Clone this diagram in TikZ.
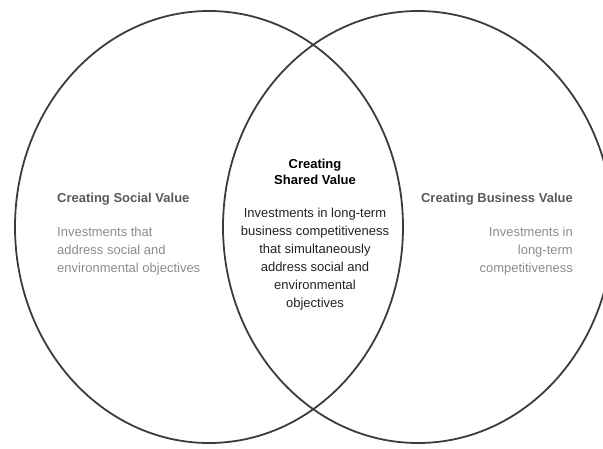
\documentclass[tikz,border=0pt]{standalone}
\usepackage{fontspec}
\setmainfont{Liberation Sans}
\usepackage{tikz}

\definecolor{rimgray}{HTML}{3C3C3C}
\definecolor{headgray}{HTML}{5A5A5A}
\definecolor{bodygray}{HTML}{8C8C8C}
\definecolor{midtext}{HTML}{222222}

\begin{document}
\begin{tikzpicture}[x=1pt, y=-1pt]
 \tikzstyle{every node}=[inner sep=0pt, font=\fontsize{13}{18}\selectfont]
 \tikzstyle{rim}=[draw=rimgray, line width=1.8pt]
 \tikzstyle{head}=[font=\fontsize{13}{16}\selectfont\bfseries]
 \useasboundingbox (0,0) rectangle (603,448);
 \clip (0,0) rectangle (603,448);

 % the two circles (the right one runs off the page edge)
 \draw[rim] (209,227) ellipse [x radius=194, y radius=216];
 \draw[rim] (418,227) ellipse [x radius=195, y radius=216];

 % left side (base of a multi-line node = its last line)
 \node[head, text=headgray, anchor=base west] (socialhead) at (57,202) {Creating Social Value};
 \node[text=bodygray, align=left, anchor=base west] (socialtext) at (57,272)
  {Investments that\\address social and\\environmental objectives};

 % overlap
 \node[head, text=black, align=center, anchor=base] (sharedhead) at (315,184) {Creating\\Shared Value};
 \node[text=midtext, align=center, anchor=base] (sharedtext) at (315,307)
  {Investments in long-term\\business competitiveness\\that simultaneously\\address social and\\environmental\\objectives};

 % right side
 \node[head, text=headgray, anchor=base east] (businesshead) at (573,202) {Creating Business Value};
 \node[text=bodygray, align=right, anchor=base east] (businesstext) at (573,272)
  {Investments in\\long-term\\competitiveness};
\end{tikzpicture}
\end{document}
